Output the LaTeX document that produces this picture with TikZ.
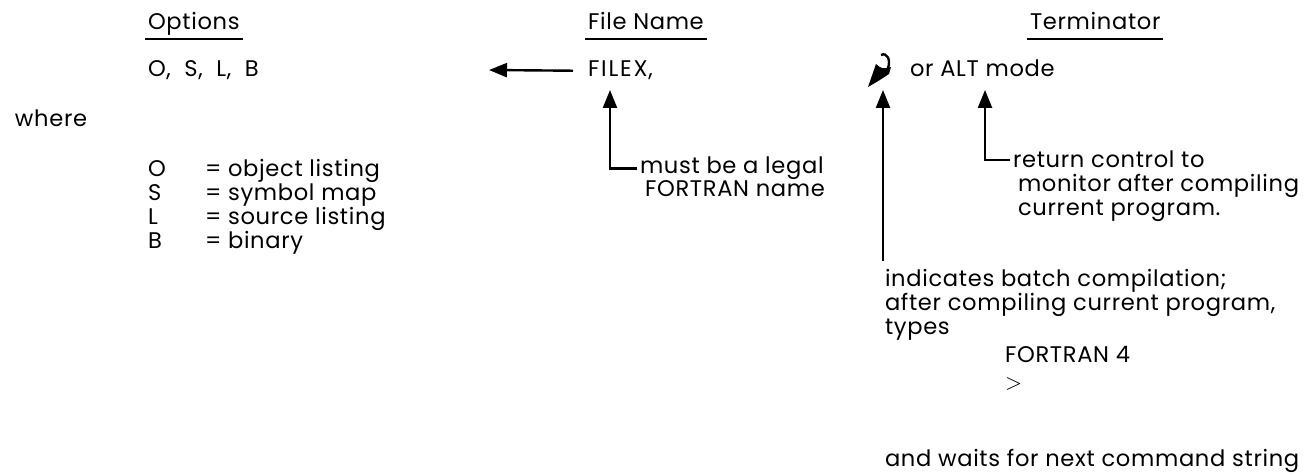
\documentclass[tikz,border=0pt]{standalone}
\usepackage{fontspec}
\setmainfont{Poppins}[LetterSpace=3]
\usetikzlibrary{arrows.meta,positioning}

\begin{document}
\begin{tikzpicture}[x=0.5pt, y=-0.5pt,
  lbl/.style={anchor=base west, inner sep=0pt, outer sep=1.5pt,
              font=\fontsize{11.3}{13}\selectfont},
  arr/.style={-{Triangle[length=9pt, width=7pt]}, line width=1.2pt},
  ul/.style={line width=0.9pt}]
\useasboundingbox (0,0) rectangle (1313,475);
% headings
\node[lbl] (opt) at (145,30) {Options};
\node[lbl] (fname) at (585,30) {File Name};
\node[lbl] (term) at (1027,30) {Terminator};
\foreach \h in {opt,fname,term}
  \draw[ul] ([yshift=-4.5pt]\h.base west) -- ([yshift=-4.5pt]\h.base east);
% command line
\node[lbl] (osl) at (145,77) {O,\hspace{0.6em}S,\hspace{0.6em}L,\hspace{0.6em}B};
\node[lbl] (filex) at (585,77) {F\hspace{0.08em}I\hspace{0.08em}L\hspace{0.08em}E\hspace{0.08em}X,};
\node[lbl] (alt) at (907,77) {or ALT mode};
\node[inner sep=0pt, minimum width=11pt, minimum height=15pt] (cr) at (880,70) {};
\draw[line width=1.2pt] (881,55) .. controls (887,52) and (891,60) .. (888,68);
\fill (868,87) -- (876,64) .. controls (882,69) .. (891,67) -- (889,74) .. controls (880,80) .. cycle;
\coordinate (opttip) at (489,70);
\draw[arr] (filex.west) ++(-12,0) -- (opttip);
% option list
\node[lbl] (where) at (12,127) {where};
\foreach \k/\v [count=\i] in {O/object listing, S/symbol map, L/source listing, B/binary} {
  \node[lbl] (key\i) at (145,153+24*\i) {\k};
  \node[lbl] (val\i) at (202,153+24*\i) {= \v};
}
% file name note
\coordinate (fxtip) at (610,90);
\node[lbl] (legal) at (637,174) {must be a legal};
\node[lbl] (fortname) at (642,197) {FORTRAN name};
\draw[arr] (legal.west) -| (fxtip);
% ALT note
\coordinate (alttip) at (985,90);
\node[lbl] (ret) at (1010,168) {return control to};
\node[lbl] (mon) at (1015,192) {monitor after compiling};
\node[lbl] (cur) at (1015,216) {current program.};
\draw[arr] (ret.west) -| (alttip);
% carriage return note
\node[lbl] (batch) at (882,287) {indicates batch compilation;};
\node[lbl] (after) at (882,311) {after compiling current program,};
\node[lbl] (types) at (882,335) {types};
\node[lbl] (f4) at (1002,363) {FORTRAN 4};
\node[lbl] (prompt) at (1002,390) {$>$};
\node[lbl] (waits) at (882,467) {and waits for next command string};
\coordinate (crtip) at (883,90);
\draw[arr] (crtip |- batch.north) ++(0,-6) -- (crtip);
\end{tikzpicture}
\end{document}
